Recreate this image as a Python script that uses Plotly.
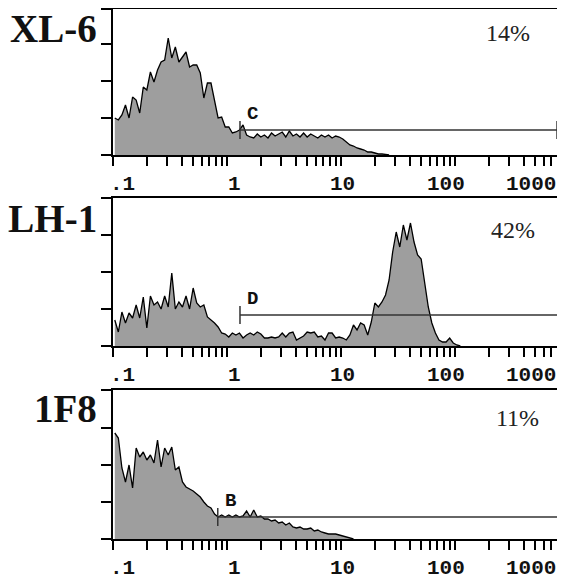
import numpy as np
import plotly.graph_objects as go

# ---------------- data ----------------
panel_names = ["XL-6", "KLH-1", "1F8"]
percent_labels = ["14%", "42%", "11%"]
gate_letters = ["C", "D", "B"]
gate_start = [1.3, 1.3, 0.83]
gate_end = [785, 817, 904]
gate_level = [25, 31, 22]

tick_label_values = [0.1, 1, 10, 100, 1000]
tick_label_text = [".1", "1", "10", "100", "1000"]

# counts per channel (128 log channels over 4 decades, 0.1 .. 1000)
counts_xl6 = [37, 35, 40, 50, 37, 58, 55, 42, 68, 65,
              83, 73, 85, 93, 95, 117, 97, 108, 93, 98,
              103, 88, 90, 90, 82, 57, 72, 72, 53, 37,
              38, 28, 28, 22, 23, 25, 30, 20, 18, 17,
              21, 18, 20, 17, 22, 19, 21, 23, 18, 24,
              19, 21, 18, 22, 18, 21, 19, 17, 20, 18,
              20, 17, 19, 18, 16, 13, 10, 9, 7, 6,
              5, 3, 3, 2, 1, 1, 0.5, 0]
counts_klh1 = [26, 14, 34, 23, 33, 28, 41, 28, 49, 18,
               50, 41, 44, 37, 50, 39, 73, 37, 44, 39,
               50, 37, 58, 43, 39, 41, 29, 26, 23, 19,
               13, 12, 9, 13, 11, 13, 8, 11, 13, 11,
               14, 12, 8, 8, 9, 8, 9, 13, 9, 13,
               14, 6, 8, 10, 14, 13, 14, 9, 10, 6,
               13, 13, 8, 9, 8, 6, 11, 21, 16, 23,
               21, 11, 24, 43, 39, 44, 51, 66, 94, 114,
               99, 121, 106, 123, 104, 91, 87, 63, 39, 23,
               13, 6, 4, 4, 8, 3, 1, 0]
counts_1f8 = [106, 101, 71, 57, 74, 51, 91, 82, 87, 79,
              84, 76, 99, 72, 91, 84, 92, 69, 72, 57,
              52, 50, 48, 45, 42, 37, 33, 31, 25, 22,
              24, 22, 24, 22, 24, 22, 23, 28, 22, 29,
              22, 23, 20, 20, 18, 19, 16, 17, 14, 16,
              12, 11, 12, 10, 10, 11, 8, 9, 7, 6,
              5, 5, 5, 4, 3, 2, 1, 0]
all_counts = [counts_xl6, counts_klh1, counts_1f8]

# channel -> fluorescence (log amplifier, 32 channels per decade)
channels = np.arange(128)
fluor = 0.1 * 10 ** ((channels + 0.5) / 32.0)

# ---------------- layout geometry (page pixels; page body has 8px margin) ----------------
OFF = 8
PAGE_W, PAGE_H = 565, 583
W, H = PAGE_W - OFF, PAGE_H - OFF
left_px = 113
decade_px = 114
x_range = [-1, -1 + (PAGE_W - left_px) / decade_px]
panel_top_px = [7, 198, 390]
panel_bot_px = [155, 346, 539]
title_cy_px = [28, 219, 409]
pct_pos_px = [(508, 33), (513, 230), (517, 418)]
label_offsets = [9, 7, 1, -9, -38]


def px_x(p):
    return (p - OFF) / W


def px_y(p):
    return min(1.0, max(0.0, 1 - (p - OFF) / H))


minor = [m * 10.0 ** d for d in range(-1, 3) for m in range(1, 10)]

fig = go.Figure()
layout = dict(width=W, height=H, margin=dict(l=0, r=0, t=0, b=0),
              paper_bgcolor="white", plot_bgcolor="white", showlegend=False)
annotations = []

for k in range(3):
    xa = "x" if k == 0 else f"x{k+1}"
    ya = "y" if k == 0 else f"y{k+1}"
    xkey = "xaxis" if k == 0 else f"xaxis{k+1}"
    ykey = "yaxis" if k == 0 else f"yaxis{k+1}"
    counts = all_counts[k]
    n = len(counts)
    fig.add_trace(go.Scatter(x=fluor[:n], y=counts, mode="lines",
                             line=dict(color="black", width=1.3),
                             fill="tozeroy", fillcolor="#9e9e9e",
                             xaxis=xa, yaxis=ya, hoverinfo="skip"))
    s, e, g = gate_start[k], gate_end[k], gate_level[k]
    fig.add_trace(go.Scatter(x=[s, e, None, s, s, None, e, e],
                             y=[g, g, None, g - 9, g + 9, None, g - 9, g + 9],
                             mode="lines", line=dict(color="#333333", width=1.5),
                             xaxis=xa, yaxis=ya, hoverinfo="skip"))
    bot = panel_bot_px[k]
    top = max(panel_top_px[k], OFF + 1)
    ytop = bot - top
    layout[xkey] = dict(type="log", range=x_range, domain=[px_x(left_px), 1.0],
                        anchor=ya, showgrid=False, zeroline=False,
                        showline=True, linecolor="black", linewidth=2, mirror=True,
                        ticks="outside", ticklen=9, tickwidth=1.5, tickcolor="black",
                        tickvals=minor, showticklabels=False)
    layout[ykey] = dict(range=[0, ytop], domain=[px_y(bot), px_y(top)],
                        anchor=xa, showgrid=False, zeroline=False,
                        showline=True, linecolor="black", linewidth=2,
                        ticks="outside", ticklen=10, tickwidth=1.5, tickcolor="black",
                        tickvals=[0, 37, 74, 111, ytop], showticklabels=False)
    # tick labels
    for v, t, off in zip(tick_label_values, tick_label_text, label_offsets):
        p = left_px + decade_px * (np.log10(v) + 1) + off
        annotations.append(dict(x=px_x(p), y=px_y(bot + 29), xref="paper", yref="paper",
                                text=f"<b>{t}</b>", showarrow=False,
                                xanchor="center", yanchor="middle",
                                font=dict(family="Liberation Mono", size=21, color="#111")))
    # panel title
    annotations.append(dict(x=px_x(99), y=px_y(title_cy_px[k]), xref="paper", yref="paper",
                            text=f"<b>{panel_names[k]}</b>", showarrow=False,
                            xanchor="right", yanchor="middle",
                            font=dict(family="Liberation Serif", size=39, color="#111")))
    # percent
    px, py = pct_pos_px[k]
    annotations.append(dict(x=px_x(px), y=px_y(py), xref="paper", yref="paper",
                            text=percent_labels[k], showarrow=False,
                            xanchor="center", yanchor="middle",
                            font=dict(family="Liberation Serif", size=24, color="#222")))
    # gate letter
    annotations.append(dict(x=np.log10(s), y=g, xref=xa, yref=ya,
                            text=f"<b>{gate_letters[k]}</b>", showarrow=False,
                            xanchor="center", yanchor="middle", xshift=13, yshift=16,
                            font=dict(family="Liberation Mono", size=19, color="#111")))

layout["annotations"] = annotations
fig.update_layout(**layout)
fig.write_html("out.html")
